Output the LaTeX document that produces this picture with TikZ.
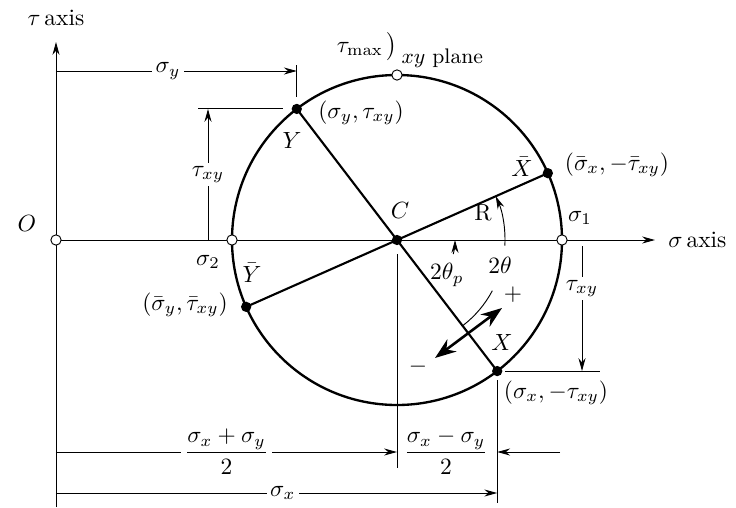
\documentclass[tikz,border=0pt]{standalone}
\usetikzlibrary{arrows.meta}
\begin{document}
\begin{tikzpicture}[x=0.6cm, y=0.6cm, every node/.style={font=\normalsize},
  dim/.style={thin, -{Stealth[length=5.5pt,width=3pt]}},
  lbl/.style={fill=white, inner sep=1.5pt}]
\useasboundingbox (-1.4,-6.675) rectangle (17,6);
% axes
\coordinate (O) at (0,0);
\coordinate (C) at (8.525,0);
\draw[dim] (0,-6.675) -- (0,4.95);
\draw[dim] (O) -- (14.975,0);
\node (taxis) at (0,5.55) {$\tau$\,axis};
\node[anchor=west, inner sep=0pt] (saxis) at (15.3,0) {$\sigma$\,axis};
% circle and diameters
\coordinate (Y) at ([shift={(127.4:4.125)}]C);
\coordinate (X) at ([shift={(-52.6:4.125)}]C);
\coordinate (Xbar) at ([shift={(23.9:4.125)}]C);
\coordinate (Ybar) at ([shift={(203.9:4.125)}]C);
\coordinate (s1) at (12.65,0);
\coordinate (s2) at (4.4,0);
\coordinate (top) at (8.525,4.125);
\draw[line width=1pt] (C) circle (4.125);
\draw[line width=0.9pt] (Y) -- (X);
\draw[line width=0.9pt] (Ybar) -- (Xbar);
\foreach \p in {Y,X,Xbar,Ybar,C} \fill (\p) circle (2.2pt);
\foreach \p in {O,s1,s2,top} \draw[thin, fill=white] (\p) circle (2.2pt);
% angles
\draw[thin] ([shift={(-52.6:2.7)}]C) arc[start angle=-52.6, end angle=-28, radius=2.7];
\draw[dim] ([shift={(-3:2.7)}]C) arc[start angle=-3, end angle=23.9, radius=2.7];
\draw[dim] ([shift={(-14:1.45)}]C) arc[start angle=-14, end angle=0, radius=1.45];
\coordinate (rotA) at (9.475,-2.95);
\coordinate (rotB) at (11.15,-1.7);
\draw[line width=1.1pt, {Stealth[length=9pt,width=6.5pt]}-{Stealth[length=9pt,width=6.5pt]}] (rotA) -- (rotB);
% point labels
\node (Olbl) at (-0.725,0.425) {$O$};
\node (Clbl) at (8.6,0.75) {$C$};
\node (Rlbl) at (10.675,0.675) {R};
\node (s1lbl) at (13.1,0.55) {$\sigma_1$};
\node (s2lbl) at (3.8,-0.55) {$\sigma_2$};
\node (Ylbl) at (5.9,2.5) {$Y$};
\node (Xlbl) at (11.15,-2.55) {$X$};
\node (Xbarlbl) at (11.65,1.825) {$\bar X$};
\node (Ybarlbl) at (4.9,-0.825) {$\bar Y$};
\node (Ycrd) at (7.625,3.175) {$(\sigma_y, \tau_{xy})$};
\node (Xcrd) at (12.5,-3.825) {$(\sigma_x, -\tau_{xy})$};
\node (Xbarcrd) at (14.025,1.875) {$(\bar\sigma_x, -\bar\tau_{xy})$};
\node (Ybarcrd) at (3.225,-1.625) {$(\bar\sigma_y, \bar\tau_{xy})$};
\node (tmax) at (8.85,4.75) {$\tau_{\max}\,\big)$\,\raisebox{-1.1ex}{\small$xy$ plane}};
\node (tthlbl) at (11.1,-0.625) {$2\theta$};
\node (tthplbl) at (9.775,-0.875) {$2\theta_p$};
\node (plus) at (11.425,-1.375) {$+$};
\node (minus) at (9.05,-3.175) {$-$};
% dimensions
\coordinate (sy0) at (0,4.225);
\draw[dim] (sy0) -- (Y |- sy0) node[lbl, pos=0.465] (sylbl) {$\sigma_y$};
\draw[thin] ([yshift=0.18cm]Y) -- ([yshift=0.09cm]Y |- sy0);
\coordinate (tl) at (3.8,0);
\draw[dim] (tl) -- (tl |- Y) node[lbl, midway] (tllbl) {$\tau_{xy}$};
\draw[thin] ([xshift=-0.15cm]tl |- Y) -- ([xshift=-0.2cm]Y);
\coordinate (tr) at (13.15,-0.15);
\draw[dim] (tr) -- (tr |- X) node[lbl, pos=0.34] (trlbl) {$\tau_{xy}$};
\draw[thin] ([xshift=0.12cm]X) -- ([xshift=0.27cm]tr |- X);
\coordinate (b1) at (0,-5.3);
\coordinate (b2) at (0,-6.325);
\coordinate (b3) at (12.6,-5.3);
\draw[dim] (b1) -- (C |- b1) node[lbl, midway] (sumlbl) {$\displaystyle\frac{\sigma_x + \sigma_y}{2}$};
\draw[dim] (b3) -- (X |- b1);
\node (diflbl) at (9.75,-5.3) {$\displaystyle\frac{\sigma_x - \sigma_y}{2}$};
\draw[dim] (b2) -- (X |- b2) node[lbl, pos=0.514] (sxlbl) {$\sigma_x$};
\draw[thin] ([yshift=-0.21cm]C) -- ([yshift=-0.24cm]C |- b1);
\draw[thin] ([yshift=-0.14cm]X) -- ([yshift=-0.15cm]X |- b2);
\end{tikzpicture}
\end{document}
